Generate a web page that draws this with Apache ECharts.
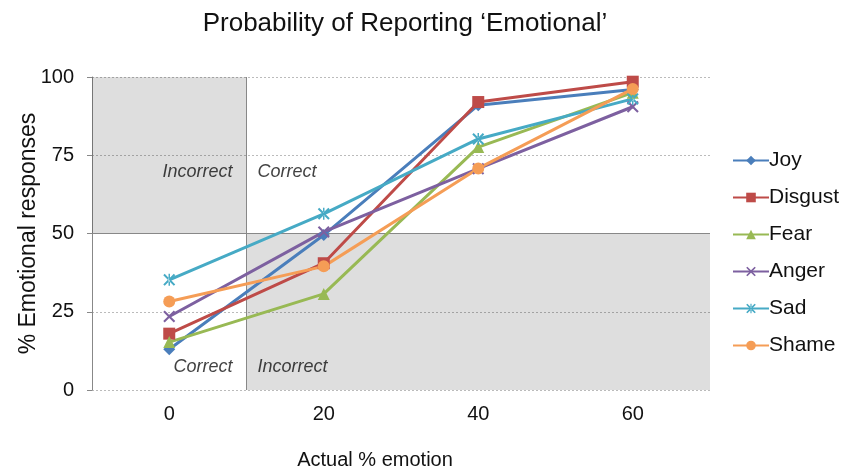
<!DOCTYPE html>
<html>
<head>
<meta charset="utf-8">
<script src="https://cdn.jsdelivr.net/npm/echarts@6/dist/echarts.min.js"></script>
<style>html,body{margin:0;padding:0;background:#fff;}#c{width:847px;height:470px;}</style>
</head>
<body>
<div id="c"></div>
<script>
const categories = ['0', '20', '40', '60'];
const joy     = [13, 49.5, 91, 96];
const disgust = [18, 40.5, 92, 98.5];
const fear    = [15.3, 30.7, 77.6, 95];
const anger   = [23.5, 50.5, 70.7, 90.5];
const sad     = [35.2, 56.3, 80.2, 93];
const shame   = [28.3, 39.5, 70.8, 96.2];
const yTicks  = [0, 25, 50, 75, 100];
const annotations = [
  {text: 'Incorrect', x: 10, y: 69.5, side: 'left'},
  {text: 'Correct',   x: 10, y: 69.5, side: 'right'},
  {text: 'Correct',   x: 10, y: 7.3,  side: 'left'},
  {text: 'Incorrect', x: 10, y: 7.3,  side: 'right'}
];

const FONT = 'Liberation Sans, Arial, Helvetica, sans-serif';
const X_SYM = 'path://M0,1.2L1.2,0L5,3.8L8.8,0L10,1.2L6.2,5L10,8.8L8.8,10L5,6.2L1.2,10L0,8.8L3.8,5Z';
const AST_SYM = 'path://M0,1.2L1.2,0L5,3.8L8.8,0L10,1.2L6.2,5L10,8.8L8.8,10L5,6.2L1.2,10L0,8.8L3.8,5Z M4.4,0L4.4,10L5.6,10L5.6,0Z';

const seriesDefs = [
  {name: 'Joy', data: joy, color: '#4a7ebb', symbol: 'diamond', size: 12},
  {name: 'Disgust', data: disgust, color: '#be4b48', symbol: 'rect', size: 12},
  {name: 'Fear', data: fear, color: '#98b954', symbol: 'triangle', size: 12},
  {name: 'Anger', data: anger, color: '#7d60a0', symbol: X_SYM, size: 12},
  {name: 'Sad', data: sad, color: '#46aac5', symbol: AST_SYM, size: 12},
  {name: 'Shame', data: shame, color: '#f59d56', symbol: 'circle', size: 12}
];

const lineSeries = seriesDefs.map(d => ({
  name: d.name, type: 'line', data: d.data,
  xAxisIndex: 0, yAxisIndex: 0,
  symbol: d.symbol, symbolSize: d.size, showAllSymbol: true,
  lineStyle: {color: d.color, width: 3},
  itemStyle: {color: d.color},
  z: 5
}));

const chart = echarts.init(document.getElementById('c'));
chart.setOption({
  animation: false,
  backgroundColor: '#fff',
  title: {
    text: 'Probability of Reporting \u2018Emotional\u2019',
    left: 400, top: 6, textAlign: 'center',
    textStyle: {fontFamily: FONT, fontSize: 26, fontWeight: 'normal', color: '#111'}
  },
  legend: {
    orient: 'vertical', left: 727, top: 145,
    itemWidth: 36, itemHeight: 12, itemGap: 16,
    textStyle: {fontFamily: FONT, fontSize: 21, color: '#111', padding: [0, 0, 0, -5]},
    data: seriesDefs.map(d => d.name)
  },
  grid: {left: 92, right: 137, top: 77, bottom: 80, containLabel: false, outerBoundsMode: 'none'},
  xAxis: [
    {
      type: 'category', data: categories, boundaryGap: true,
      name: 'Actual % emotion', nameLocation: 'middle', nameGap: 60, nameMoveOverlap: false,
      nameTextStyle: {fontFamily: FONT, fontSize: 20, color: '#111', padding: [0, 52, 0, 0]},
      axisLine: {show: false}, axisTick: {show: false},
      axisLabel: {fontFamily: FONT, fontSize: 20, color: '#111', margin: 14},
      splitLine: {show: false}
    },
    {type: 'value', min: -10, max: 70, show: false}
  ],
  yAxis: {
    type: 'value', min: 0, max: 100, interval: 25,
    name: '% Emotional responses', nameLocation: 'middle', nameGap: 52, nameMoveOverlap: false,
    nameTextStyle: {fontFamily: FONT, fontSize: 23, color: '#111'},
    axisLine: {show: true, onZero: false, lineStyle: {color: '#888', width: 1}},
    axisTick: {show: true, length: 5, lineStyle: {color: '#888'}},
    axisLabel: {fontFamily: FONT, fontSize: 20, color: '#111', margin: 18,
      formatter: v => yTicks.includes(v) ? String(v) : ''},
    splitLine: {show: true, lineStyle: {color: '#bbb', type: [2, 2], width: 1}}
  },
  series: [
    {
      type: 'scatter', xAxisIndex: 1, yAxisIndex: 0, silent: true,
      symbolSize: 0, z: 1,
      data: annotations.map(a => ({
        value: [a.x, a.y],
        label: {
          show: true, formatter: a.text, position: a.side,
          distance: a.side === 'left' ? 14 : 11,
          fontFamily: FONT, fontSize: 18, fontStyle: 'italic', color: '#111'
        }
      })),
      markArea: {
        silent: true,
        itemStyle: {color: 'rgba(0,0,0,0.13)'},
        data: [
          [{coord: [-10, 50]}, {coord: [10, 100]}],
          [{coord: [10, 0]}, {coord: [70, 50]}]
        ]
      },
      markLine: {
        silent: true, symbol: 'none',
        lineStyle: {color: '#888', type: 'solid', width: 1},
        label: {show: false},
        data: [
          [{coord: [-10, 50]}, {coord: [70, 50]}],
          [{coord: [10, 0]}, {coord: [10, 100]}]
        ]
      }
    }
  ].concat(lineSeries)
});
</script>
</body>
</html>
